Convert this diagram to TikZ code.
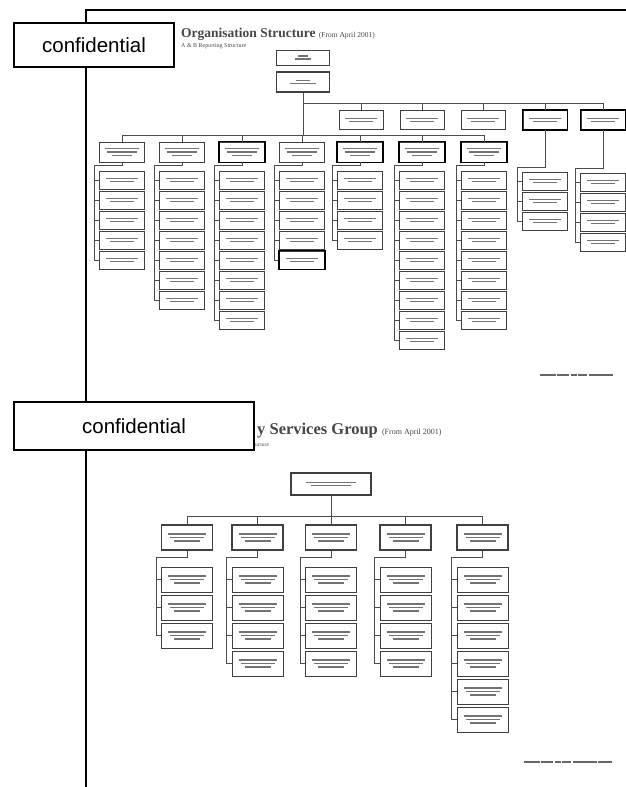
\documentclass[tikz,border=0pt]{standalone}
\usepackage{fontspec}
\setmainfont{Liberation Serif}
\newfontfamily\labelfont{Liberation Sans}
\usetikzlibrary{calc}

% a blurred line of box text
\newcommand\txtbar[1]{\rule{#1pt}{1.5pt}}
\newcommand\twobars{\txtbar{32}\\\txtbar{24}}
\newcommand\threebars{\txtbar{38}\\\txtbar{34}\\\txtbar{26}}
\newcommand\footbar{\txtbar{16}\hspace{1.5pt}\txtbar{12}\hspace{1.5pt}\txtbar{6}\hspace{1.5pt}\txtbar{9}\hspace{1.5pt}\txtbar{24}}

% stack of child boxes hung from a parent by a left-hand bracket
% #1 parent, #2 prefix, #3 x, #4 first y, #5 count, #6 pitch, #7 content, #8 bracket rise
\newcommand\kids[8]{%
  \foreach \k in {1,...,#5}{\node[kid] (#2-\k) at (#3,{#4+(\k-1)*#6}) {#7};}
  \draw[conn] (#1.south) |- ([xshift=-5pt,yshift=#8]#2-1.north west) -- ([xshift=-5pt]#2-#5.west);
  \foreach \k in {1,...,#5}{\draw[conn] ([xshift=-5pt]#2-\k.west) -- (#2-\k.west);}
}

\tikzset{
  conn/.style={draw=black!70, line width=0.8pt},
  ob/.style={draw=black!75, line width=0.8pt, fill=white, inner sep=0pt, align=center,
             font=\fontsize{2.6}{3.4}\selectfont, text=black!55},
  heavy/.style={line width=1.6pt},
  conf/.style={draw=black, line width=1.2pt, fill=white, inner sep=0pt,
               font=\labelfont\fontsize{20.5}{20.5}\selectfont},
  ttl/.style={anchor=base west, inner sep=0pt, text=black!72,
              font=\bfseries\fontsize{13.5}{13.5}\selectfont},
  sub/.style={anchor=base west, inner sep=0pt, text=black!72,
              font=\fontsize{6}{6}\selectfont},
  foot/.style={anchor=center, inner sep=0pt, text=black!60, font=\fontsize{2.6}{3.2}\selectfont},
}

\begin{document}
\begin{tikzpicture}[x=1pt,y=-1pt]
\fill[white] (0,0) rectangle (626,787);
\useasboundingbox (0,0) rectangle (626,787);

% ---------- upper chart ----------
\node[ttl] (title1) at (181,37) {Organisation Structure {\mdseries\fontsize{7.5}{7.5}\selectfont(From April 2001)}};
\node[sub] (sub1) at (181,47.5) {A \& B Reporting Structure};

\begin{scope}[kid/.style={ob, minimum width=45pt, minimum height=18pt}]
  \node[ob, minimum width=53pt, minimum height=15pt] (ceo) at (303,57.5) {\txtbar{10}\\\txtbar{16}};
  \node[ob, heavy, minimum width=53pt, minimum height=20pt] (dep) at (303,82) {\txtbar{14}\\\txtbar{26}};

  \foreach \n/\x in {1/361,2/422,3/483,4/545,5/603}
    \node[kid, minimum width=44pt, minimum height=19pt] (t\n) at (\x,120) {\twobars};
  \foreach \n/\x in {1/122,2/182,3/242,4/302,5/360,6/422,7/484}
    \node[kid, minimum height=20pt] (c\n) at (\x,152) {\txtbar{34}\\\txtbar{30}\\\txtbar{20}};
  \foreach \n in {4,5}{\draw[heavy] (t\n.north west) rectangle (t\n.south east);}
  \foreach \n in {3,5,6,7}{\draw[heavy] (c\n.north west) rectangle (c\n.south east);}

  \path (t1.north) ++(0,-7) coordinate (tbar);
  \path (c1.north) ++(0,-6) coordinate (cbar);
  \draw[conn] (dep.south) -- (dep.south |- cbar);
  \draw[conn] (dep.south |- tbar) -| (t5.north);
  \foreach \n in {1,...,4}{\draw[conn] (t\n.north) -- (t\n.north |- tbar);}
  \draw[conn] (c1.north) |- (cbar) -| (c7.north);
  \foreach \n in {2,...,6}{\draw[conn] (c\n.north) -- (c\n.north |- cbar);}

  \kids{c1}{k1}{122}{180}{5}{20}{\twobars}{5pt}
  \kids{c2}{k2}{182}{180}{7}{20}{\twobars}{5pt}
  \kids{c3}{k3}{242}{180}{8}{20}{\twobars}{5pt}
  \kids{c4}{k4}{302}{180}{5}{20}{\twobars}{5pt}
  \kids{c5}{k5}{360}{180}{4}{20}{\twobars}{5pt}
  \kids{c6}{k6}{422}{180}{9}{20}{\twobars}{5pt}
  \kids{c7}{k7}{484}{180}{8}{20}{\twobars}{5pt}
  \kids{t4}{k8}{545}{181}{3}{20}{\twobars}{4pt}
  \kids{t5}{k9}{603}{182}{4}{20}{\twobars}{4pt}
  \draw[heavy] (k4-5.north west) rectangle (k4-5.south east);
\end{scope}

\node[foot] (foot1) at (576,375) {\footbar};

% ---------- lower chart ----------
\node[ttl, font=\bfseries\fontsize{16.5}{16.5}\selectfont] (title2) at (257,434) {y Services Group {\mdseries\fontsize{8}{8}\selectfont(From April 2001)}};
\node[sub, font=\fontsize{5.5}{5.5}\selectfont] (sub2) at (255,446) {ucture};

\begin{scope}[kid/.style={ob, minimum width=51pt, minimum height=25pt}]
  \node[ob, line width=1.2pt, minimum width=80pt, minimum height=22pt] (gm) at (331,484) {\txtbar{50}\\\txtbar{40}};
  \foreach \n/\x in {1/187,2/257.5,3/331,4/405.5,5/482.5}
    \node[kid, line width=1.4pt] (h\n) at (\x,537.5) {\threebars};

  \path (h1.north) ++(0,-8) coordinate (hbar);
  \draw[conn] (gm.south) -- (gm.south |- hbar);
  \draw[conn] (h1.north) |- (hbar) -| (h5.north);
  \foreach \n in {2,3,4}{\draw[conn] (h\n.north) -- (h\n.north |- hbar);}

  \kids{h1}{g1}{187}{579.5}{3}{28}{\threebars}{9pt}
  \kids{h2}{g2}{257.5}{579.5}{4}{28}{\threebars}{9pt}
  \kids{h3}{g3}{331}{579.5}{4}{28}{\threebars}{9pt}
  \kids{h4}{g4}{405.5}{579.5}{4}{28}{\threebars}{9pt}
  \kids{h5}{g5}{482.5}{579.5}{6}{28}{\threebars}{9pt}
\end{scope}

\node[foot] (foot2) at (568,762) {\footbar\hspace{1.5pt}\txtbar{14}};

% ---------- page frame and stamps ----------
\draw[line width=1.3pt] (86,787) -- (86,10) -- (626,10);
\node[conf, minimum width=160pt, minimum height=44pt] (stamp1) at (94,45) {confidential};
\node[conf, minimum width=240pt, minimum height=48pt] (stamp2) at (134,426) {confidential};
\end{tikzpicture}
\end{document}
